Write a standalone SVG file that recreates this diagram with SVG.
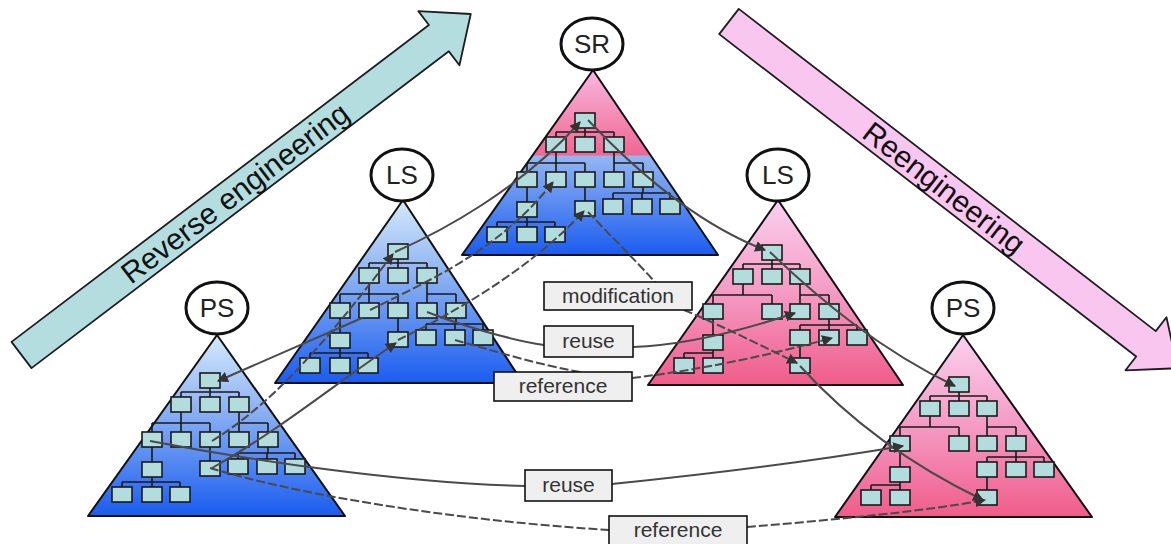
<svg xmlns="http://www.w3.org/2000/svg" xmlns:xlink="http://www.w3.org/1999/xlink" width="1171" height="544" viewBox="0 0 1171 544">
  <style>
    .bg { fill: #ffffff; }
    .band { stroke: #1e1e1e; stroke-width: 1.8; stroke-linejoin: round; }
    .band-text { font-family: "Liberation Sans", Arial, sans-serif; font-size: 30px; fill: #111; text-anchor: middle; }
    .tri { stroke: #111; stroke-width: 2; stroke-linejoin: round; }
    .bubble { fill: #fff; stroke: #111; stroke-width: 3; }
    .bubble-text { font-family: "Liberation Sans", Arial, sans-serif; font-size: 26px; fill: #222; text-anchor: middle; }
    .box { fill: #b3dcdc; stroke: #1a1a1a; stroke-width: 1.6; }
    .branch { fill: none; stroke: #1a1a1a; stroke-width: 1.6; }
    .link { fill: none; stroke: #4a4a4a; stroke-width: 2; }
    .dash { stroke-dasharray: 9 3; }
    .tag { fill: #efefef; stroke: #111; stroke-width: 1.6; }
    .tag-text { font-family: "Liberation Sans", Arial, sans-serif; font-size: 21px; fill: #333; text-anchor: middle; }
  </style>
  <defs>
    <linearGradient id="gBlue" x1="0" y1="0" x2="0" y2="1">
      <stop offset="0" stop-color="#d4e9fc"/>
      <stop offset="0.4" stop-color="#8fb4f3"/>
      <stop offset="1" stop-color="#1a5cf0"/>
    </linearGradient>
    <linearGradient id="gPink" x1="0" y1="0" x2="0" y2="1">
      <stop offset="0" stop-color="#fbd0ee"/>
      <stop offset="0.5" stop-color="#f49bc4"/>
      <stop offset="1" stop-color="#f05c8a"/>
    </linearGradient>
    <linearGradient id="gSR" gradientUnits="userSpaceOnUse" x1="0" y1="70" x2="0" y2="255">
      <stop offset="0" stop-color="#f8b8df"/>
      <stop offset="0.46" stop-color="#f06692"/>
      <stop offset="0.465" stop-color="#94b6f2"/>
      <stop offset="1" stop-color="#1a5cf0"/>
    </linearGradient>
    <marker id="head" viewBox="0 0 10 10" refX="9" refY="5" markerWidth="11" markerHeight="11" markerUnits="userSpaceOnUse" orient="auto-start-reverse">
      <path d="M0,0 L10,5 L0,10 z" fill="#333"/>
    </marker>
    <!-- hierarchy used in the two left-hand pyramids and the SR pyramid -->
    <g id="treeA">
      <path class="branch" d="M10,15V19M-19,19H39M-19,19V24M10,19V24M39,19V24
        M-19,39V50M-48,50H10M-48,50V59M-19,50V59M10,50V59
        M39,39V50M39,50H68M39,50V59M68,50V59
        M-48,74V89M10,74V88
        M68,74V80M38,80H95M38,80V86M67,80V86M95,80V86
        M-48,104V109M-78,109H-20M-78,109V114M-48,109V114M-20,109V114"/>
      <rect class="box" x="0" y="0" width="20" height="15"/>
      <rect class="box" x="-29" y="24" width="20" height="15"/>
      <rect class="box" x="0" y="24" width="20" height="15"/>
      <rect class="box" x="29" y="24" width="20" height="15"/>
      <rect class="box" x="-58" y="59" width="20" height="15"/>
      <rect class="box" x="-29" y="59" width="20" height="15"/>
      <rect class="box" x="0" y="59" width="20" height="15"/>
      <rect class="box" x="29" y="59" width="20" height="15"/>
      <rect class="box" x="58" y="59" width="20" height="15"/>
      <rect class="box" x="-58" y="89" width="20" height="15"/>
      <rect class="box" x="0" y="88" width="20" height="15"/>
      <rect class="box" x="28" y="86" width="20" height="15"/>
      <rect class="box" x="57" y="86" width="20" height="15"/>
      <rect class="box" x="85" y="86" width="20" height="15"/>
      <rect class="box" x="-88" y="114" width="20" height="15"/>
      <rect class="box" x="-58" y="114" width="20" height="15"/>
      <rect class="box" x="-30" y="114" width="20" height="15"/>
    </g>
    <!-- hierarchy used in the two right-hand pyramids -->
    <g id="treeB">
      <path class="branch" d="M10,15V19M-19,19H38M-19,19V24M10,19V24M38,19V24
        M-19,39V50M-49,50H10M-49,50V59M10,50V59
        M38,39V50M38,50H67M38,50V59M67,50V59
        M-49,74V90
        M67,74V80M38,80H95M38,80V85M67,80V85M95,80V85
        M-49,105V108M-78,108H-49M-78,108V113M-49,108V113
        M38,100V113"/>
      <rect class="box" x="0" y="0" width="20" height="15"/>
      <rect class="box" x="-29" y="24" width="20" height="15"/>
      <rect class="box" x="0" y="24" width="20" height="15"/>
      <rect class="box" x="28" y="24" width="20" height="15"/>
      <rect class="box" x="-59" y="59" width="20" height="15"/>
      <rect class="box" x="0" y="59" width="20" height="15"/>
      <rect class="box" x="28" y="59" width="20" height="15"/>
      <rect class="box" x="57" y="59" width="20" height="15"/>
      <rect class="box" x="-59" y="90" width="20" height="15"/>
      <rect class="box" x="28" y="85" width="20" height="15"/>
      <rect class="box" x="57" y="85" width="20" height="15"/>
      <rect class="box" x="85" y="85" width="20" height="15"/>
      <rect class="box" x="-88" y="113" width="20" height="15"/>
      <rect class="box" x="-59" y="113" width="20" height="15"/>
      <rect class="box" x="28" y="113" width="20" height="15"/>
    </g>
  </defs>

  <rect class="bg" x="0" y="0" width="1171" height="544"/>

  <!-- process bands -->
  <g id="reverse-engineering">
    <g transform="translate(21.5,355) rotate(-37.2)">
      <polygon class="band" fill="#b4dde0" points="0,-16.5 524,-16.5 524,-34 564,0 524,34 524,16.5 0,16.5"/>
      <text class="band-text" x="268" y="10.5">Reverse engineering</text>
    </g>
  </g>
  <g id="reengineering">
    <g transform="translate(729,21.5) rotate(37.7)">
      <polygon class="band" fill="#f9c6f0" points="0,-16 527,-16 527,-33.5 567,0 527,33.5 527,16 0,16"/>
      <text class="band-text" x="272" y="10.5">Reengineering</text>
    </g>
  </g>

  <!-- pyramids -->
  <g id="ps-left">
    <polygon class="tri" fill="url(#gBlue)" points="217,335 345,516 88,516"/>
    <ellipse class="bubble" cx="217" cy="308" rx="31" ry="26"/>
    <text class="bubble-text" x="217" y="317">PS</text>
    <use xlink:href="#treeA" x="200" y="373"/>
  </g>
  <g id="ls-left">
    <polygon class="tri" fill="url(#gBlue)" points="403,200 523,383 275,383"/>
    <ellipse class="bubble" cx="402" cy="175" rx="31" ry="26"/>
    <text class="bubble-text" x="402" y="184">LS</text>
    <use xlink:href="#treeA" x="388" y="244"/>
  </g>
  <g id="sr">
    <polygon class="tri" fill="url(#gSR)" points="593,70 718,255 462,255"/>
    <ellipse class="bubble" cx="592" cy="44" rx="31" ry="26"/>
    <text class="bubble-text" x="592" y="53">SR</text>
    <use xlink:href="#treeA" x="575" y="113"/>
  </g>
  <g id="ls-right">
    <polygon class="tri" fill="url(#gPink)" points="778,200 903,385 648,385"/>
    <ellipse class="bubble" cx="778" cy="175" rx="31" ry="26"/>
    <text class="bubble-text" x="778" y="184">LS</text>
    <use xlink:href="#treeB" x="762" y="245"/>
  </g>
  <g id="ps-right">
    <polygon class="tri" fill="url(#gPink)" points="963,335 1092,517 835,517"/>
    <ellipse class="bubble" cx="963" cy="308" rx="31" ry="26"/>
    <text class="bubble-text" x="963" y="317">PS</text>
    <use xlink:href="#treeB" x="949" y="377"/>
  </g>

  <!-- correspondences between elements -->
  <g id="connectors">
    <path class="link" d="M362,318 C320,336 270,358 218,381" marker-end="url(#head)"/>
    <path class="link dash" d="M212,441 C270,405 320,350 393,254" marker-end="url(#head)"/>
    <path class="link" d="M212,468 C280,430 340,380 396,343" marker-end="url(#head)"/>
    <path class="link" d="M395,252 C440,232 520,190 580,122" marker-end="url(#head)"/>
    <path class="link dash" d="M370,310 C430,280 500,250 553,182" marker-end="url(#head)"/>
    <path class="link dash" d="M398,340 C450,315 530,270 584,211" marker-end="url(#head)"/>
    <path class="link dash" d="M588,212 C610,235 635,260 655,282"/>
    <path class="link dash" d="M684,310 C720,325 760,345 797,363" marker-end="url(#head)"/>
    <path class="link" d="M427,312 C460,325 510,340 544,345"/>
    <path class="link" d="M633,347 C690,345 750,328 795,313" marker-end="url(#head)"/>
    <path class="link dash" d="M455,340 C490,350 540,365 580,372"/>
    <path class="link dash" d="M632,378 C700,370 770,355 832,338" marker-end="url(#head)"/>
    <path class="link" d="M588,120 C640,175 700,225 765,250" marker-end="url(#head)"/>
    <path class="link" d="M770,252 C820,300 880,350 955,386" marker-end="url(#head)"/>
    <path class="link" d="M800,366 C840,410 900,460 983,500" marker-end="url(#head)"/>
    <path class="link" d="M150,441 C250,460 400,483 525,486"/>
    <path class="link" d="M612,484 C700,475 820,460 903,446" marker-end="url(#head)"/>
    <path class="link dash" d="M210,468 C300,495 450,520 609,530"/>
    <path class="link dash" d="M747,527 C830,520 920,512 985,500" marker-end="url(#head)"/>
  </g>

  <!-- relation labels -->
  <g id="label-modification">
    <rect class="tag" x="544" y="282" width="148" height="28"/>
    <text class="tag-text" x="618" y="303">modification</text>
  </g>
  <g id="label-reuse-upper">
    <rect class="tag" x="544" y="326" width="89" height="31"/>
    <text class="tag-text" x="588.5" y="348">reuse</text>
  </g>
  <g id="label-reference-upper">
    <rect class="tag" x="494" y="372" width="138" height="29"/>
    <text class="tag-text" x="563" y="393">reference</text>
  </g>
  <g id="label-reuse-lower">
    <rect class="tag" x="525" y="470" width="87" height="31"/>
    <text class="tag-text" x="568.5" y="492">reuse</text>
  </g>
  <g id="label-reference-lower">
    <rect class="tag" x="609" y="516" width="138" height="29"/>
    <text class="tag-text" x="678" y="537">reference</text>
  </g>
</svg>
